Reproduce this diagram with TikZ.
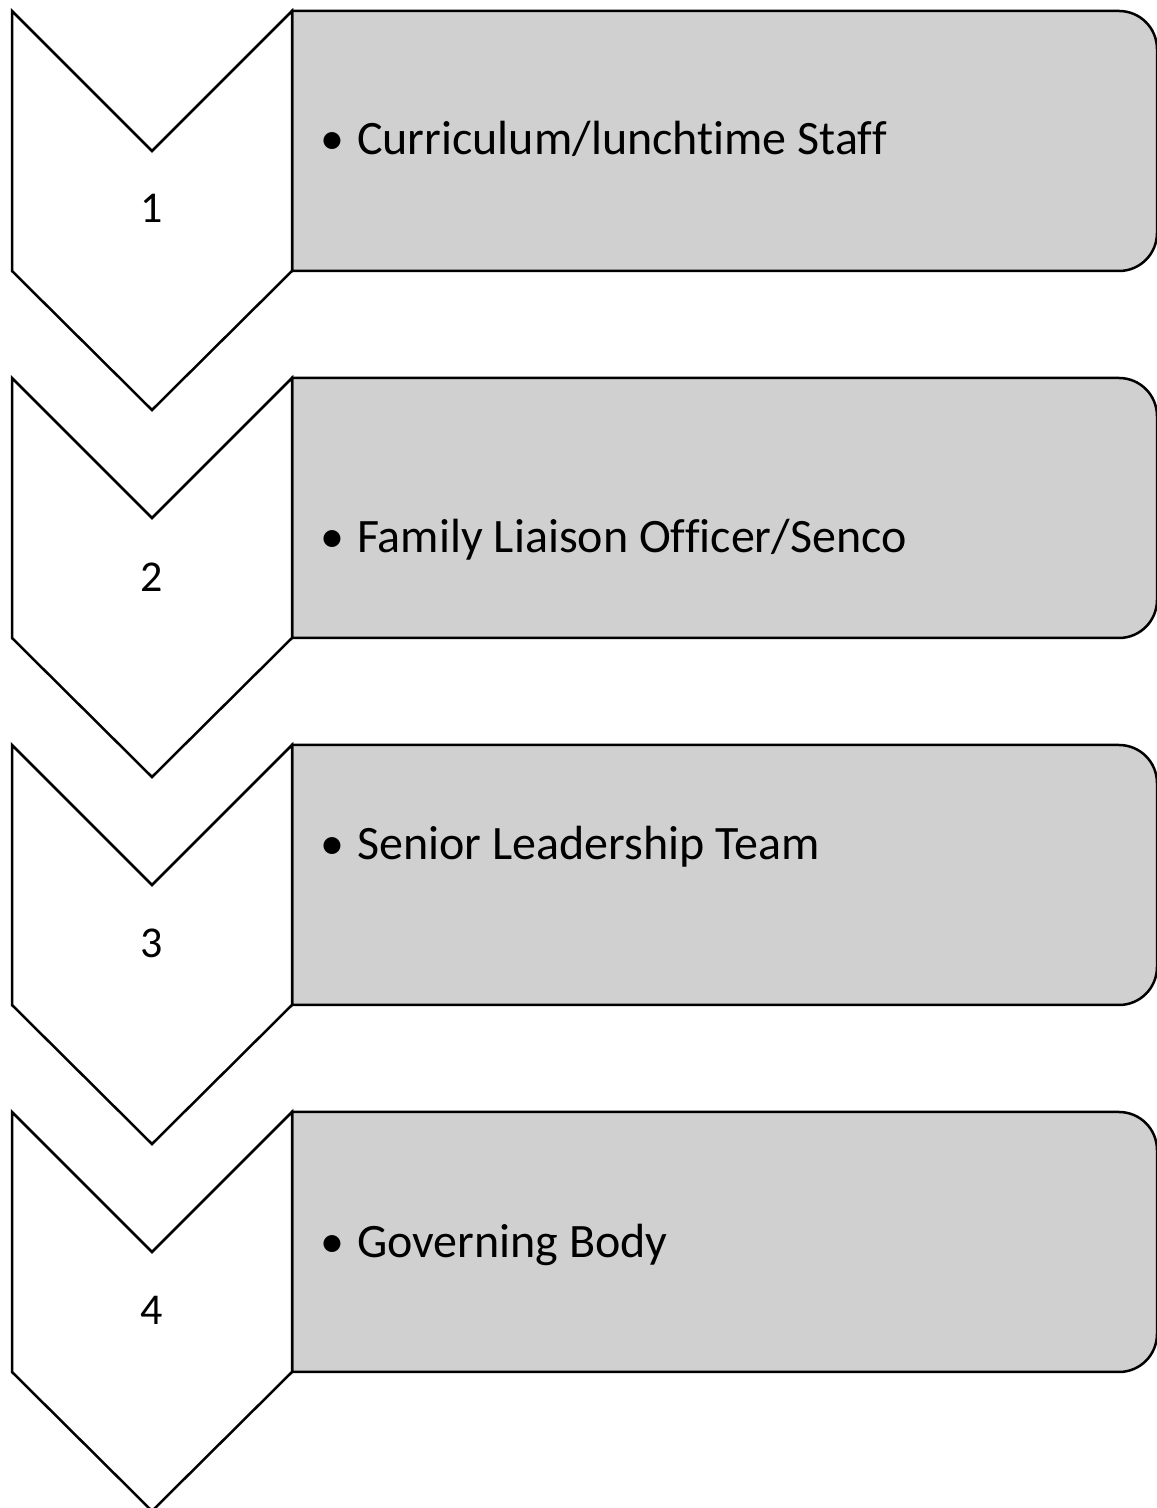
\documentclass[tikz,border=0pt]{standalone}
\usepackage{fontspec}
\setmainfont{Carlito}[Ligatures=CommonOff]
\definecolor{boxgray}{RGB}{208,208,208}

\tikzset{
  chevron/.style={draw=black,line width=2.5pt,fill=white,line join=miter},
  stepbox/.style={draw=black,line width=2.5pt,fill=boxgray},
  stepnum/.style={anchor=base,inner sep=0pt,font=\fontsize{44}{52}\selectfont},
  steptext/.style={anchor=base west,inner sep=0pt,font=\fontsize{48}{58}\selectfont}
}

\begin{document}
\begin{tikzpicture}[x=1pt,y=1pt]
\useasboundingbox (0,0) rectangle (1157,1508);

% grey boxes
\draw[stepbox] (292,1497) -- (1119,1497) arc[start angle=90,end angle=0,radius=38] -- (1157,1275) arc[start angle=0,end angle=-90,radius=38] -- (292,1237) -- cycle;
\draw[stepbox] (292,1130) -- (1119,1130) arc[start angle=90,end angle=0,radius=38] -- (1157,908) arc[start angle=0,end angle=-90,radius=38] -- (292,870) -- cycle;
\draw[stepbox] (292,763) -- (1119,763) arc[start angle=90,end angle=0,radius=38] -- (1157,541) arc[start angle=0,end angle=-90,radius=38] -- (292,503) -- cycle;
\draw[stepbox] (292,396) -- (1119,396) arc[start angle=90,end angle=0,radius=38] -- (1157,174) arc[start angle=0,end angle=-90,radius=38] -- (292,136) -- cycle;

% chevrons
\draw[chevron] (12,1497) -- (152,1357) -- (292,1497) -- (292,1237) -- (152,1098) -- (12,1237) -- cycle;
\draw[chevron] (12,1130) -- (152,990) -- (292,1130) -- (292,870) -- (152,731) -- (12,870) -- cycle;
\draw[chevron] (12,763) -- (152,623) -- (292,763) -- (292,503) -- (152,364) -- (12,503) -- cycle;
\draw[chevron] (12,396) -- (152,256) -- (292,396) -- (292,136) -- (152,-3) -- (12,136) -- cycle;

% numbers
\node[stepnum] (num1) at (152,1285) {1};
\node[stepnum] (num2) at (152,916) {2};
\node[stepnum] (num3) at (152,550) {3};
\node[stepnum] (num4) at (152,183) {4};

% items
\node[steptext] (item1) at (320,1353) {\makebox[37pt][l]{•}Curriculum/lunchtime Staff};
\node[steptext] (item2) at (320,955) {\makebox[37pt][l]{•}Family Liaison Officer/Senco};
\node[steptext] (item3) at (320,648) {\makebox[37pt][l]{•}Senior Leadership Team};
\node[steptext] (item4) at (320,250) {\makebox[37pt][l]{•}Governing Body};
\end{tikzpicture}
\end{document}
